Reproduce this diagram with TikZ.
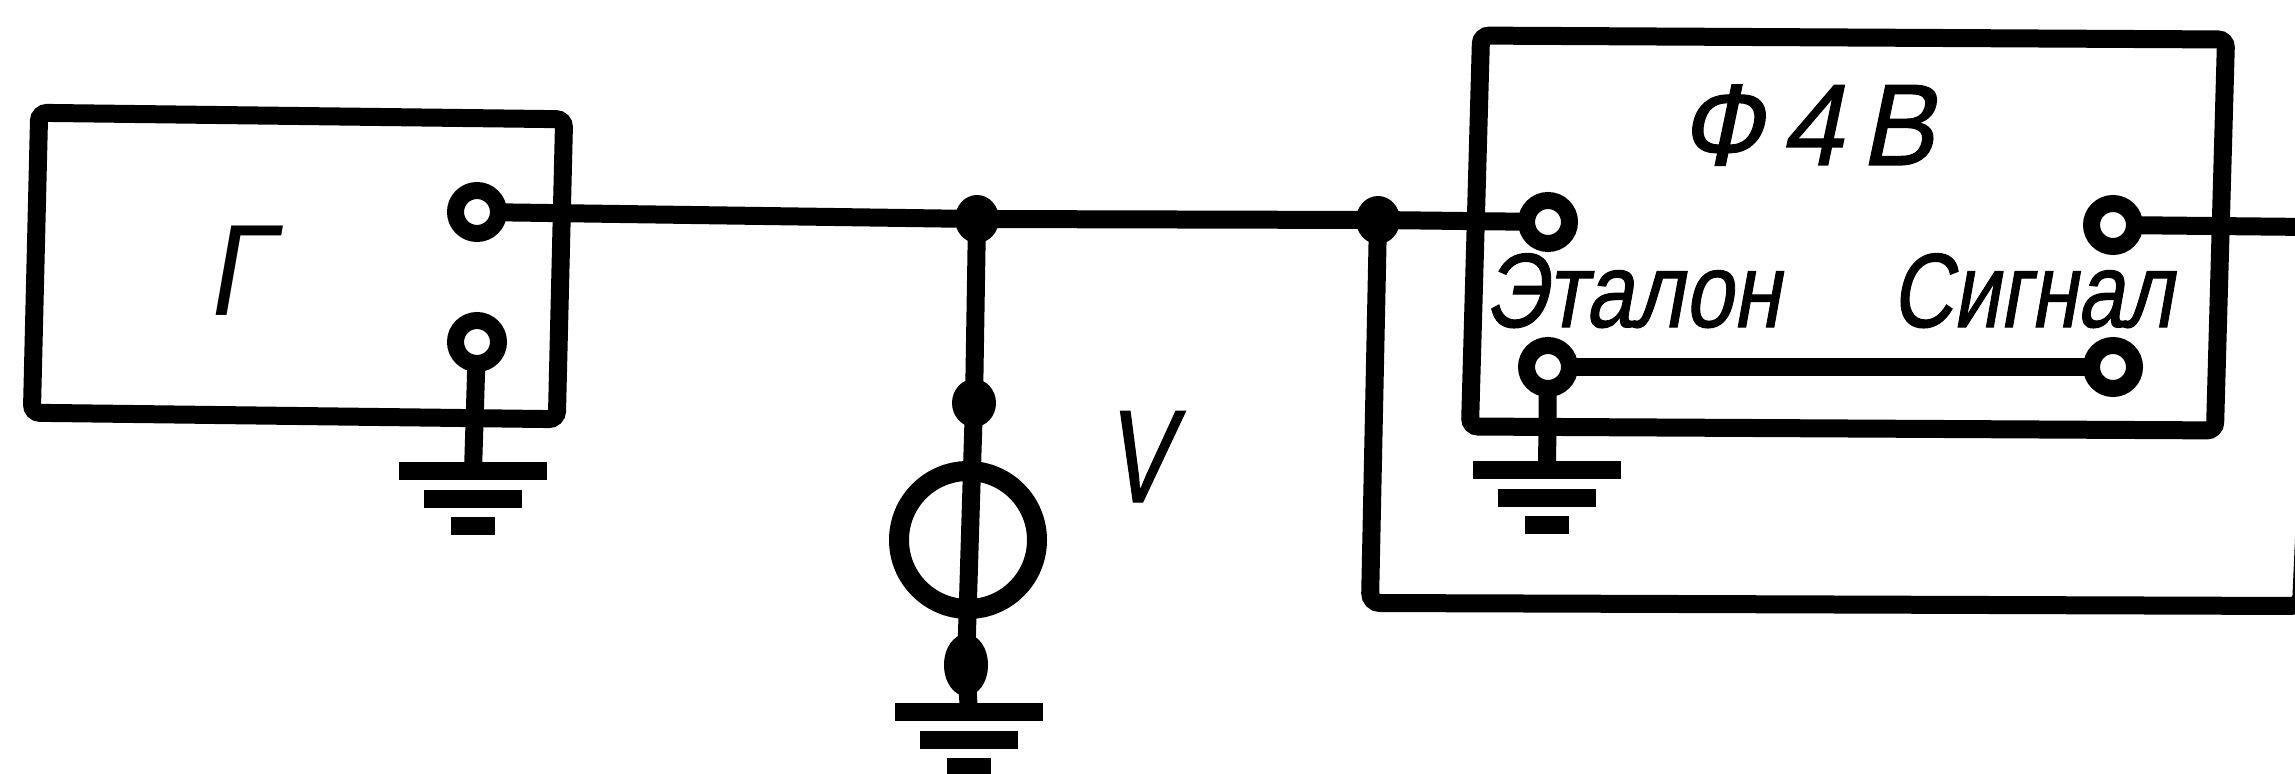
\documentclass[tikz,border=0pt]{standalone}
\usepackage{fontspec}
\setmainfont{Liberation Sans}
\newfontfamily\schemfont[FakeSlant=.22,FakeBold=1]{Liberation Sans}
\usetikzlibrary{positioning,shapes.geometric}
\tikzset{
  wire/.style={line width=.18cm},
  unitbox/.style={draw,rectangle,line width=.18cm,rounded corners=.08cm},
  term/.style={draw,circle,line width=.17cm,minimum size=.43cm,inner sep=0pt,outer sep=0pt},
  junct/.style={fill,ellipse,inner sep=0pt,outer sep=0pt,minimum width=.44cm,minimum height=.48cm},
  meter/.style={draw,circle,line width=.2cm,minimum size=1.38cm,inner sep=0pt},
  lbl/.style={inner sep=0pt,anchor=base},
  gndmark/.pic={
    \coordinate (-top) at (0,0);
    \draw[wire] (-.74,0) -- (.74,0);
    \draw[wire] (-.49,-.28) -- (.49,-.28);
    \draw[wire] (-.22,-.55) -- (.22,-.55);
  }
}
\begin{document}
\begin{tikzpicture}[
                    node distance=1.5cm,
                    on grid]
  \useasboundingbox (0,0) rectangle (22.95,7.73);
  \clip (0,0) rectangle (22.95,7.73);
  % units
  \node[unitbox,minimum width=5.25cm,minimum height=3cm,rotate=-.7,xslant=.012] (gen) at (2.98,5.07) {};
  \node[unitbox,minimum width=7.45cm,minimum height=3.91cm,rotate=-.3,xslant=.023] (phase) at (18.48,5.40) {};
  % terminals
  \node[term] (gen_out) at (4.77,5.61) {};
  \node[term] (gen_gnd) [below=1.30cm of gen_out] {};
  \node[term] (phase_ref) at (15.48,5.51) {};
  \node[term] (phase_ref_b) [below=1.45cm of phase_ref] {};
  \node[term] (phase_sig_b) [right=5.65cm of phase_ref_b] {};
  \node[term] (phase_sig) [above=1.42cm of phase_sig_b] {};
  % branch points and voltmeter
  \node[junct] (dot_a) at (9.77,5.54) {};
  \node[junct] (dot_j) at (13.78,5.53) {};
  \node[junct] (dot_b) at (9.74,3.70) {};
  \node[meter] (volt) at (9.68,2.33) {};
  \node[junct,minimum height=.62cm] (dot_c) at (9.66,1.08) {};
  % earths
  \pic (gnd_gen) at (4.73,3.02) {gndmark};
  \pic (gnd_volt) at (9.69,.61) {gndmark};
  \pic (gnd_phase) at (15.47,3.03) {gndmark};
  % free ends
  \coordinate (sig_end) at (23.1,5.46);
  \coordinate (fb_a) at (13.70,1.70);
  \coordinate (fb_b) at (23.01,1.67);
  \coordinate (fb_c) at (23.06,2.8);
  % labels
  \node[lbl,font=\itshape\fontsize{37}{37}\selectfont,xscale=.9] (gen_lbl) at (2.44,4.58) {Г};
  \node[lbl,font=\schemfont\fontsize{37.5}{37.5}\selectfont,xscale=.75] (volt_lbl) at (11.38,2.71) {V};
  \node[lbl,font=\schemfont\fontsize{33}{33}\selectfont,xscale=.95] (phase_lbl) at (18.06,6.08) {Ф\,4\,В};
  \node[lbl,font=\schemfont\fontsize{30}{30}\selectfont,xscale=.82] (ref_lbl) at (16.32,4.46) {Эталон};
  \node[lbl,font=\schemfont\fontsize{30}{30}\selectfont,xscale=.8] (sig_lbl) at (20.32,4.46) {Сигнал};
  % wiring
  \path[wire]
    (gen_out) edge (dot_a.center)
    (dot_a.center) edge (dot_j.center)
    (dot_j.center) edge (phase_ref)
    (phase_sig) edge (sig_end)
    (phase_ref_b) edge (phase_sig_b)
    (phase_ref_b) edge (gnd_phase-top)
    (gen_gnd) edge (gnd_gen-top)
    (dot_a.center) edge (dot_b.center)
    (dot_b.center) edge (dot_c.center)
    (dot_c.center) edge (gnd_volt-top)
    ;
  \draw[wire,rounded corners=.1cm] (dot_j.center) -- (fb_a) -- (fb_b) -- (fb_c);
\end{tikzpicture}
\end{document}
